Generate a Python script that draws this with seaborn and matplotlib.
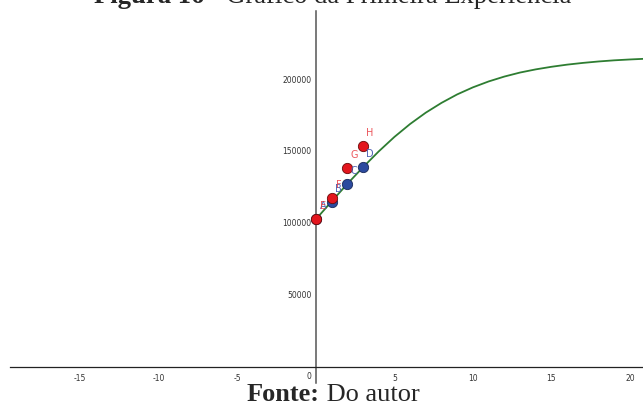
import matplotlib
matplotlib.use("Agg")
import matplotlib.pyplot as plt
import seaborn as sns
import pandas as pd

# ---- data ----
curve_x = [0, 1, 2, 3, 4, 5, 6, 7, 8, 9, 10, 11, 12, 13, 14, 15, 16, 17, 18, 19, 20, 21]
curve_y = [102400, 114800, 127000, 138600, 149600, 159700, 168700, 176600, 183400,
           189300, 194200, 198300, 201700, 204500, 206700, 208500, 210000, 211200,
           212200, 213000, 213600, 214100]

blue_labels = ["A", "B", "C", "D"]
blue_x = [0, 1, 2, 3]
blue_y = [102400, 114700, 127000, 138600]

red_labels = ["E", "F", "G", "H"]
red_x = [0, 1, 2, 3]
red_y = [102400, 117000, 137900, 153600]

x_ticks = [-15, -10, -5, 5, 10, 15, 20]
y_ticks = [50000, 100000, 150000, 200000]

title_bold = "Figura 16"
title_rest = " - Gráfico da Primeira Experiência"
source_bold = "Fonte:"
source_rest = " Do autor"

# ---- styling ----
sns.set_theme(style="white")
plt.rcParams["font.family"] = ["DejaVu Sans"]
plt.rcParams["axes.unicode_minus"] = False

W, H = 643, 405
fig = plt.figure(figsize=(W / 100, H / 100), dpi=100)
fig.patch.set_facecolor("white")
ax = fig.add_axes([10 / W, 1 - 383 / H, 633 / W, 372 / H])
ax.patch.set_alpha(0)
ax.set_xlim(-19.47, 20.83)
ax.set_ylim(-11400, 247300)

for s in ["top", "right"]:
    ax.spines[s].set_visible(False)
ax.spines["left"].set_position(("data", 0))
ax.spines["bottom"].set_position(("data", 0))
ax.spines["left"].set_color("#555555")
ax.spines["bottom"].set_color("#222222")
ax.spines["left"].set_linewidth(1.1)
ax.spines["bottom"].set_linewidth(0.9)

curve_df = pd.DataFrame({"x": curve_x, "y": curve_y})
sns.lineplot(data=curve_df, x="x", y="y", ax=ax, color="#2e7d32", linewidth=1.3,
             sort=True, legend=False, zorder=2)

blue_df = pd.DataFrame({"x": blue_x, "y": blue_y, "lab": blue_labels})
red_df = pd.DataFrame({"x": red_x, "y": red_y, "lab": red_labels})
sns.scatterplot(data=blue_df, x="x", y="y", ax=ax, color="#2c4a9e", s=55,
                edgecolor="#1a2a5a", linewidth=0.6, zorder=3, legend=False)
sns.scatterplot(data=red_df, x="x", y="y", ax=ax, color="#e3161e", s=55,
                edgecolor="#6a0a0a", linewidth=0.6, zorder=4, legend=False)

for _, r in blue_df.iterrows():
    ax.annotate(r["lab"], (r["x"], r["y"]), xytext=(7, 13), textcoords="offset pixels",
                ha="center", va="center", fontsize=7, color="#5063b5", zorder=5)
for _, r in red_df.iterrows():
    ax.annotate(r["lab"], (r["x"], r["y"]), xytext=(7, 13), textcoords="offset pixels",
                ha="center", va="center", fontsize=7, color="#e8393f", alpha=0.85, zorder=6)

ax.set_xticks(x_ticks)
ax.set_xticklabels([str(v) for v in x_ticks])
ax.set_yticks(y_ticks)
ax.set_yticklabels([str(v) for v in y_ticks])
ax.tick_params(axis="both", which="major", labelsize=5.5, labelcolor="#333333",
               color="#444444", length=1.6, width=0.6, direction="out")
ax.tick_params(axis="x", pad=4)
ax.tick_params(axis="y", pad=1.5)
ax.annotate("0", (0, 0), xytext=(-7, -10), textcoords="offset pixels",
            ha="center", va="center", fontsize=5.5, color="#333333")
ax.set_xlabel("")
ax.set_ylabel("")
ax.grid(False)

# ---- title (mostly clipped at top) and source ----
def two_part(bold, rest, cx, ypix, size):
    fig.canvas.draw()
    r = fig.canvas.get_renderer()
    tb = fig.text(0, 1 - ypix / H, bold, fontsize=size, fontweight="bold",
                  family="Liberation Serif", va="baseline", ha="left")
    tr = fig.text(0, 1 - ypix / H, rest, fontsize=size,
                  family="Liberation Serif", va="baseline", ha="left")
    wb = tb.get_window_extent(r).width
    wr = tr.get_window_extent(r).width
    x0 = cx - (wb + wr) / 2
    tb.set_x(x0 / W)
    tr.set_x((x0 + wb) / W)

two_part(title_bold, title_rest, 333, 3, 19.2)
two_part(source_bold, source_rest, 333, 401, 19)

fig.savefig("out.png", dpi=100)
